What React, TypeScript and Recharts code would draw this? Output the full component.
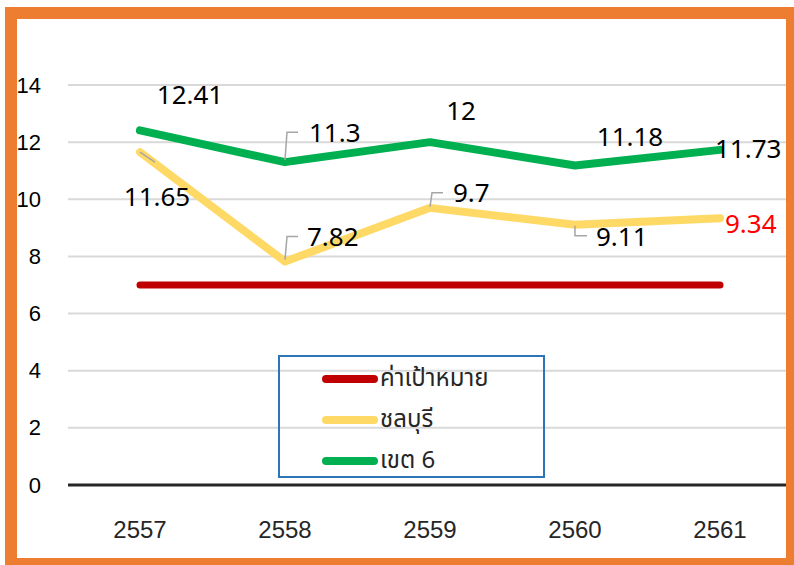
import React from 'react';
import { LineChart, Line, XAxis, YAxis, CartesianGrid, LabelList } from 'recharts';

const years = ['2557', '2558', '2559', '2560', '2561'];
const targetValues = [7, 7, 7, 7, 7];
const chonburiValues = [11.65, 7.82, 9.7, 9.11, 9.34];
const region6Values = [12.41, 11.3, 12, 11.18, 11.73];
const yTicks = [0, 2, 4, 6, 8, 10, 12, 14];

const seriesNames = { target: 'ค่าเป้าหมาย', chonburi: 'ชลบุรี', region6: 'เขต 6' };

const data = years.map((year, i) => ({
  year,
  target: targetValues[i],
  chonburi: chonburiValues[i],
  region6: region6Values[i],
}));

// label placement relative to each point (dx/dy to text, optional leader polyline)
type LabelPos = { dx: number; dy: number; anchor: 'start' | 'middle'; leader?: number[][]; color?: string };

const region6Labels: LabelPos[] = [
  { dx: 50, dy: -36, anchor: 'middle' },
  { dx: 24, dy: -30, anchor: 'start', leader: [[0, -2], [2, -30], [13, -30]] },
  { dx: 31, dy: -32, anchor: 'middle' },
  { dx: 55, dy: -30, anchor: 'middle' },
  { dx: -5, dy: -2, anchor: 'start' },
];

const chonburiLabels: LabelPos[] = [
  { dx: 17, dy: 44, anchor: 'middle', leader: [[0, 0], [15, 10]] },
  { dx: 22, dy: -26, anchor: 'start', leader: [[0, -2], [2, -25], [13, -25]] },
  { dx: 23, dy: -16, anchor: 'start', leader: [[0, -1], [2, -15], [13, -15]] },
  { dx: 21, dy: 11, anchor: 'start', leader: [[0, 1], [0, 11], [12, 11]] },
  { dx: 5, dy: 5, anchor: 'start', color: '#FF0000' },
];

const makeLabel = (positions: LabelPos[]) => (props: any) => {
  const { x, y, value, index } = props;
  const p = positions[index];
  if (!p) return null;
  return (
    <g>
      {p.leader && (
        <polyline
          points={p.leader.map(([lx, ly]) => `${x + lx},${y + ly}`).join(' ')}
          fill="none"
          stroke="#A6A6A6"
          strokeWidth={1.5}
        />
      )}
      <text
        x={x + p.dx}
        y={y + p.dy}
        textAnchor={p.anchor}
        dominantBaseline="central"
        fontFamily="'Noto Sans', sans-serif"
        fontSize={26}
        fill={p.color || '#000'}
      >
        {value}
      </text>
    </g>
  );
};

const YTick = (props: any) => {
  const { y, payload } = props;
  return (
    <text x={41} y={y} textAnchor="end" dominantBaseline="central" fontFamily="'Liberation Sans', Arial, sans-serif" fontSize={22} fill="#000">
      {payload.value}
    </text>
  );
};

const legendItems = [
  { name: seriesNames.target, color: '#C00000' },
  { name: seriesNames.chonburi, color: '#FFD966' },
  { name: seriesNames.region6, color: '#00B050' },
];

const LegendBox = () => (
  <div
    style={{
      position: 'absolute',
      left: 278,
      top: 355,
      width: 267,
      height: 123,
      border: '2px solid #2E75B6',
      boxSizing: 'border-box',
      paddingTop: 1,
    }}
  >
    {legendItems.map((item) => (
      <div key={item.name} style={{ display: 'flex', alignItems: 'center', height: 41, paddingLeft: 42 }}>
        <div style={{ width: 56, height: 8, borderRadius: 4, background: item.color }} />
        <span style={{ marginLeft: 2, fontSize: 24, color: '#262626', fontFamily: "Tahoma, 'Noto Sans Thai', 'Noto Sans', sans-serif" }}>
          {item.name}
        </span>
      </div>
    ))}
  </div>
);

export default function App() {
  return (
    <div style={{ position: 'absolute', left: 0, top: 0, width: 794, height: 565, overflow: 'hidden', background: '#fff' }}>
      <LineChart width={794} height={565} data={data} margin={{ top: 85, right: 2, bottom: 30, left: 0 }}>
        <CartesianGrid vertical={false} stroke="#D9D9D9" strokeWidth={2} />
        <XAxis
          dataKey="year"
          height={50}
          padding={{ left: 72, right: 72 }}
          tickLine={false}
          axisLine={{ stroke: '#262626', strokeWidth: 3 }}
          tick={{ fontSize: 24, fill: '#262626', fontFamily: "'Liberation Sans', Arial, sans-serif" }}
          tickMargin={30}
        />
        <YAxis
          width={68}
          domain={[0, 14]}
          ticks={yTicks}
          axisLine={false}
          tickLine={false}
          tick={<YTick />}
        />
        <Line
          dataKey="target"
          name={seriesNames.target}
          stroke="#C00000"
          strokeWidth={7}
          strokeLinecap="round"
          dot={false}
          activeDot={false}
          isAnimationActive={false}
        />
        <Line
          dataKey="chonburi"
          name={seriesNames.chonburi}
          stroke="#FFD966"
          strokeWidth={8}
          strokeLinecap="round"
          strokeLinejoin="round"
          dot={false}
          activeDot={false}
          isAnimationActive={false}
        >
          <LabelList dataKey="chonburi" content={makeLabel(chonburiLabels)} />
        </Line>
        <Line
          dataKey="region6"
          name={seriesNames.region6}
          stroke="#00B050"
          strokeWidth={8}
          strokeLinecap="round"
          strokeLinejoin="round"
          dot={false}
          activeDot={false}
          isAnimationActive={false}
        >
          <LabelList dataKey="region6" content={makeLabel(region6Labels)} />
        </Line>
      </LineChart>
      <LegendBox />
      <div
        style={{
          position: 'absolute',
          left: 5,
          top: 7,
          width: 793,
          height: 563,
          border: '12px solid #ED7D31',
          boxSizing: 'border-box',
          pointerEvents: 'none',
        }}
      />
    </div>
  );
}
